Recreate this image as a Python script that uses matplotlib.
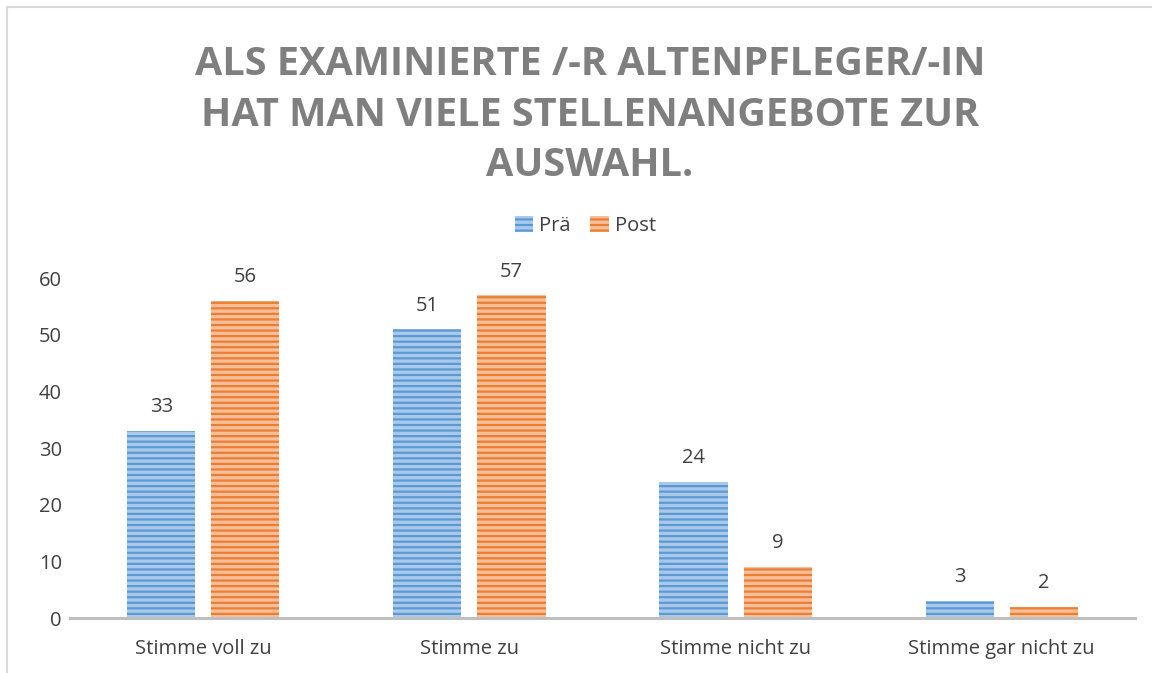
import matplotlib
matplotlib.use("Agg")
import matplotlib.pyplot as plt
import numpy as np

# data
categories = ["Stimme voll zu", "Stimme zu", "Stimme nicht zu", "Stimme gar nicht zu"]
pre = [33, 51, 24, 3]
post = [56, 57, 9, 2]
series_names = ["Prä", "Post"]
title = "ALS EXAMINIERTE /-R ALTENPFLEGER/-IN\nHAT MAN VIELE STELLENANGEBOTE ZUR\nAUSWAHL."

plt.rcParams['font.family'] = ['Open Sans', 'DejaVu Sans']
plt.rcParams['hatch.linewidth'] = 1.6

fig = plt.figure(figsize=(11.52, 6.73), dpi=100)
ax = fig.add_axes([0.061, 0.0817, 0.924, 0.505])

x = np.arange(len(categories))
w = 0.256
off = 0.158

b1 = ax.bar(x - off, pre, w, color='#a9c8ea', linewidth=0, hatch='---', label=series_names[0])
b2 = ax.bar(x + off, post, w, color='#f7bf99', linewidth=0, hatch='---', label=series_names[1])
# stripe colours
for p in b1.patches:
    p._hatch_color = matplotlib.colors.to_rgba('#5b9bd5')
for p in b2.patches:
    p._hatch_color = matplotlib.colors.to_rgba('#ed7d31')

for bars, vals in ((b1, pre), (b2, post)):
    for b, v in zip(bars, vals):
        ax.text(b.get_x() + b.get_width() / 2, v + 2.4, str(v), ha='center', va='bottom',
                fontsize=14.5, color='#404040')

ax.set_xlim(-0.5, len(categories) - 0.5)
ax.set_ylim(0, 60)
ax.set_yticks(range(0, 61, 10))
ax.set_xticks(x)
ax.set_xticklabels(categories)
ax.tick_params(axis='both', length=0, labelsize=14.5, colors='#404040')
ax.tick_params(axis='x', pad=15)
ax.tick_params(axis='y', pad=6)
for s in ['top', 'right', 'left']:
    ax.spines[s].set_visible(False)
ax.spines['bottom'].set_color('#bfbfbf')
ax.spines['bottom'].set_linewidth(2.2)

leg = fig.legend(loc='center', bbox_to_anchor=(0.508, 0.664), ncol=2, frameon=False,
                 fontsize=14.5, handlelength=0.9, handleheight=0.8, columnspacing=1.0,
                 handletextpad=0.3)
for t in leg.get_texts():
    t.set_color('#404040')

fig.text(0.512, 0.829, title, ha='center', va='center', fontsize=28.5, fontweight='bold',
         color='#7f7f7f', linespacing=1.39)

# chart border
fig.patches.append(plt.Rectangle((7 / 1152, -0.1), 1.2, 1 - 7 / 673 + 0.1, transform=fig.transFigure,
                                 fill=False, edgecolor='#d9d9d9', linewidth=1.5))

fig.savefig("out.png", dpi=100)
